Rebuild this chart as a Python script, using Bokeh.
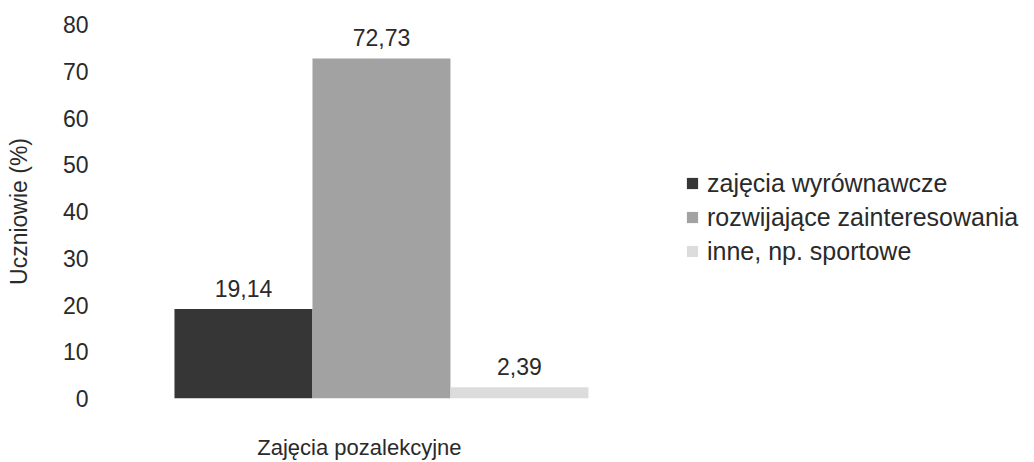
from bokeh.plotting import figure
from bokeh.models import ColumnDataSource, Range1d, FixedTicker, LabelSet, Legend, LegendItem, LinearAxis
from bokeh.core.properties import value
from bokeh.embed import file_html
from bokeh.resources import INLINE

# ---- data ----
group_label = "Zajęcia pozalekcyjne"
series = ["zajęcia wyrównawcze", "rozwijające zainteresowania", "inne, np. sportowe"]
values = [19.14, 72.73, 2.39]
colors = ["#363636", "#a2a2a2", "#dcdcdc"]
y_ticks = [0, 10, 20, 30, 40, 50, 60, 70, 80]
y_label = "Uczniowie (%)"

FONT = "Liberation Sans"
TXT = "#2a2a2a"
CAPTION_X = 0.84  # horizontal centre of the category caption (in x-range units)

src = ColumnDataSource(dict(
    x=list(range(len(series))),
    top=values,
    name=series,
    color=colors,
    lab=[f"{v:.2f}".replace(".", ",") for v in values],
))

p = figure(width=1034, height=462, output_backend="svg", toolbar_location=None,
           x_range=Range1d(-1.036, 5.732), y_range=Range1d(0, 80),
           x_axis_location=None,
           min_border_left=100, min_border_right=0, min_border_top=24, min_border_bottom=62)
p.outline_line_color = None
p.grid.visible = False
p.background_fill_color = "white"
p.border_fill_color = "white"

r = p.vbar(x="x", top="top", width=1.0, bottom=0, fill_color="color", line_color=None, source=src)

labels = LabelSet(x="x", y="top", text="lab", source=src, text_align="center", text_baseline="alphabetic",
                  y_offset=12, text_font=value(FONT), text_font_size="23px", text_color=TXT)
p.add_layout(labels)

# y axis
ya = p.yaxis[0]
ya.ticker = FixedTicker(ticks=y_ticks)
ya.axis_line_color = None
ya.major_tick_line_color = None
ya.minor_tick_line_color = None
ya.major_tick_out = 0
ya.major_tick_in = 0
ya.major_label_standoff = 12
ya.major_label_text_font = FONT
ya.major_label_text_font_size = "23px"
ya.major_label_text_color = TXT
ya.axis_label = y_label
ya.axis_label_text_font = FONT
ya.axis_label_text_font_size = "23px"
ya.axis_label_text_font_style = "normal"
ya.axis_label_text_color = TXT
ya.axis_label_standoff = 28

# x axis: single caption label
xa = LinearAxis(ticker=FixedTicker(ticks=[CAPTION_X]),
                major_label_overrides={CAPTION_X: group_label},
                axis_line_color=None, major_tick_line_color=None, minor_tick_line_color=None,
                major_tick_out=0, major_tick_in=0, major_label_standoff=36,
                major_label_text_font=FONT, major_label_text_font_size="22px",
                major_label_text_color=TXT)
p.add_layout(xa, "below")

items = [LegendItem(label=s, renderers=[r], index=i) for i, s in enumerate(series)]
legend = Legend(items=items, location=(585, 130), border_line_color=None,
                background_fill_alpha=0, padding=0, margin=0, spacing=0,
                glyph_width=14, glyph_height=14, label_height=34, label_standoff=8,
                label_text_font=FONT, label_text_font_size="25px", label_text_color=TXT)
p.add_layout(legend, "center")

open("out.html", "w").write(file_html(p, INLINE))
